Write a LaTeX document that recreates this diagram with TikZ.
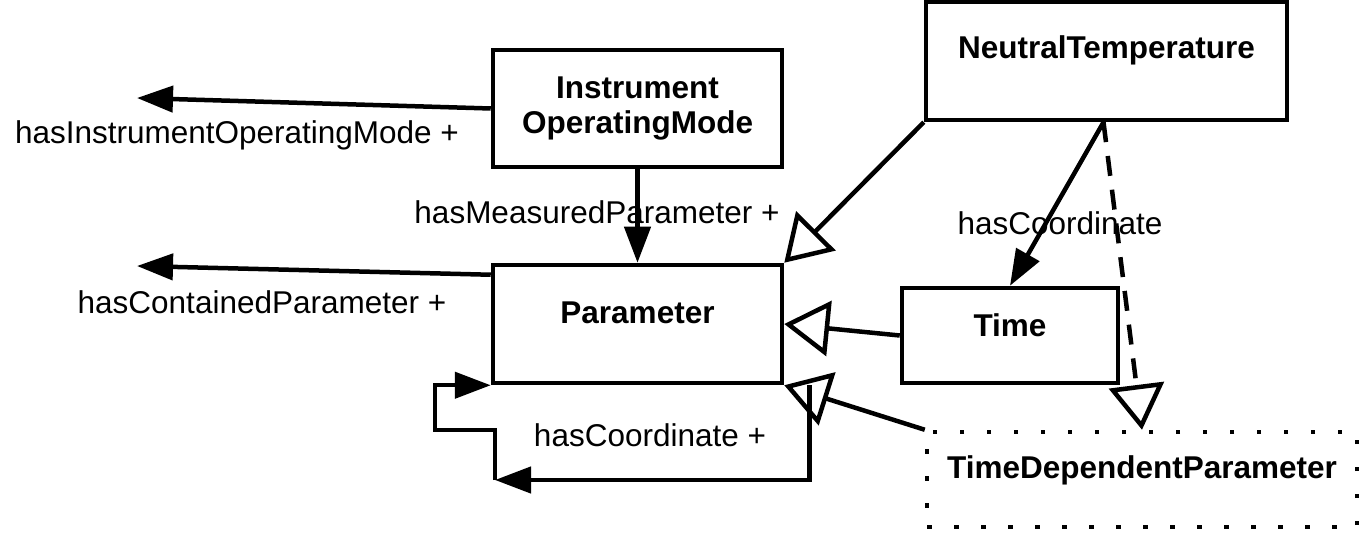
\documentclass[tikz,border=0pt]{standalone}
\usepackage{fontspec}
\setmainfont{Liberation Sans}
\usetikzlibrary{arrows.meta}
\begin{document}
\begin{tikzpicture}[x=1pt,y=-1pt,
  box/.style={draw,line width=4.5pt,minimum width=#1,inner sep=0pt},
  dotbox/.style={draw,line width=4.5pt,dash pattern=on 4.5pt off 22.5pt,minimum width=#1,inner sep=0pt},
  title/.style={font=\fontsize{31.5}{35}\selectfont\bfseries,inner sep=0pt,align=center},
  lbl/.style={font=\fontsize{31.5}{35}\selectfont,inner sep=0pt},
  conn/.style={line width=4.5pt},
  fillarrow/.style={conn,-{Triangle[length=36pt,width=26pt]}},
  openarrow/.style={conn,-{Triangle[open,length=45pt,width=55pt]}}
]
\useasboundingbox (0,0) rectangle (1368,534);

\node[box=289pt,minimum height=117pt] (iom) at (637.5,108.5) {};
\node[title] (iomt) at (iom.center) {Instrument\\OperatingMode};
\node[box=361pt,minimum height=118pt] (nt) at (1106.5,61) {};
\node[title] (ntt) at ([yshift=11pt]nt.center) {NeutralTemperature};
\node[box=289pt,minimum height=118pt] (par) at (637.5,324) {};
\node[title] (part) at ([yshift=11pt]par.center) {Parameter};
\node[box=216pt,minimum height=95pt] (time) at (1010,335.5) {};
\node[title] (timet) at ([yshift=10pt]time.center) {Time};
\node[dotbox=430pt,minimum height=95pt] (tdp) at (1142,479.5) {};
\node[title] (tdpt) at ([yshift=9.5pt]tdp.center) {TimeDependentParameter};

\coordinate (e1) at (137,98);
\coordinate (e2) at (137,266);
\draw[fillarrow] (iom.west) -- (e1);
\node[lbl] (l1) at (237,135) {hasInstrumentOperatingMode +};
\draw[fillarrow] ([yshift=-12pt]par.north west) -- (e2);
\node[lbl] (l2) at (262,302) {hasContainedParameter +};

\draw[fillarrow] (iom.south) -- (par.north);
\node[lbl] (l3) at (597,212) {hasMeasuredParameter +};

\draw[openarrow] (nt.south west) -- (par.north east);
\draw[fillarrow] ([xshift=-3pt]nt.south) -- (time.north);
\node[lbl] (l4) at (1060,223) {hasCoordinate};
\draw[openarrow,dash pattern=on 20pt off 14pt] ([xshift=-3pt]nt.south) -- (tdp.north);

\draw[openarrow] (time.west) -- (par.east);
\draw[openarrow] (tdp.north west) -- (par.south east);

\coordinate (lp) at (495,480);
\draw[fillarrow] ([xshift=25pt]par.south east) |- (lp);
\draw[fillarrow] (lp) -- (495,430) -- (435,430) |- (par.south west);
\node[lbl] (l5) at (650,435) {hasCoordinate +};
\end{tikzpicture}
\end{document}
